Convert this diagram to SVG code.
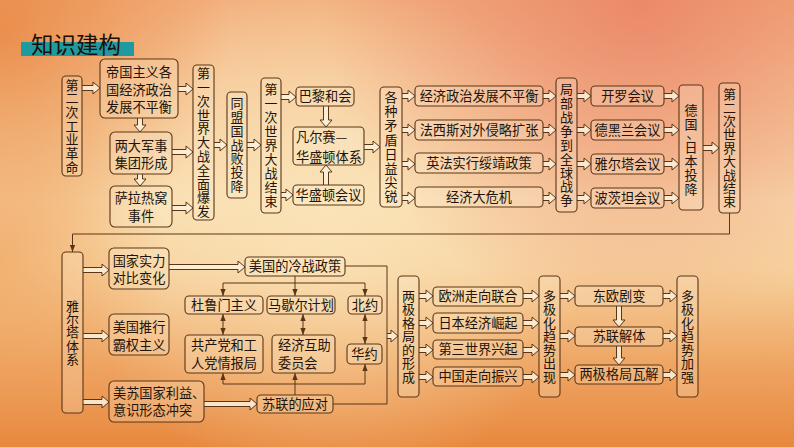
<svg xmlns="http://www.w3.org/2000/svg" width="794" height="447" viewBox="0 0 794 447">
<defs>
<linearGradient id="bg" x1="0" y1="0" x2="0" y2="1">
<stop offset="0" stop-color="#f2b07e"/>
<stop offset="0.18" stop-color="#f6c898"/>
<stop offset="0.45" stop-color="#f9deb0"/>
<stop offset="0.6" stop-color="#f7d29e"/>
<stop offset="0.82" stop-color="#eea462"/>
<stop offset="1" stop-color="#e8883e"/>
</linearGradient>
<radialGradient id="tr" cx="640" cy="0" r="320" gradientUnits="userSpaceOnUse">
<stop offset="0" stop-color="#ea8266" stop-opacity="0.85"/>
<stop offset="1" stop-color="#ea8266" stop-opacity="0"/>
</radialGradient>
<radialGradient id="tl" cx="0" cy="30" r="230" gradientUnits="userSpaceOnUse">
<stop offset="0" stop-color="#e8843e" stop-opacity="0.8"/>
<stop offset="1" stop-color="#e8843e" stop-opacity="0"/>
</radialGradient>
<radialGradient id="ml" cx="0" cy="260" r="170" gradientUnits="userSpaceOnUse">
<stop offset="0" stop-color="#ee9a52" stop-opacity="0.6"/>
<stop offset="1" stop-color="#ee9a52" stop-opacity="0"/>
</radialGradient>
<radialGradient id="cl" cx="330" cy="230" r="260" gradientUnits="userSpaceOnUse">
<stop offset="0" stop-color="#fbe6bc" stop-opacity="0.7"/>
<stop offset="1" stop-color="#fbe6bc" stop-opacity="0"/>
</radialGradient>
<marker id="ah" viewBox="0 0 8 6" refX="8" refY="3" markerWidth="7" markerHeight="5.5" markerUnits="userSpaceOnUse" orient="auto-start-reverse">
<path d="M0,0 L8,3 L0,6 z" fill="#5b3616"/>
</marker>
<style>
.box{fill:#fff4e0;fill-opacity:.22;stroke:#5b3616;stroke-width:1.1}
.t{font-family:"Noto Sans CJK SC","Noto Sans CJK TC",sans-serif;font-size:13.2px;fill:#22140a}
.v{font-size:13px}
.c{text-anchor:middle}
.ha{fill:#fdf1dc;fill-opacity:.85;stroke:#5b3616;stroke-width:1}
.ln{fill:none;stroke:#5b3616;stroke-width:1}
</style>
</defs>

<rect width="794" height="447" fill="url(#bg)"/>
<rect width="794" height="447" fill="url(#cl)"/>
<rect width="794" height="447" fill="url(#tr)"/>
<rect width="794" height="447" fill="url(#tl)"/>
<rect width="794" height="447" fill="url(#ml)"/>

<g id="title">
<rect x="21" y="42" width="113" height="14" fill="#1f9aa0"/>
<text x="31" y="53" style="font-family:'Noto Sans CJK SC',sans-serif;font-size:22.5px;fill:#1a1008">知识建构</text>
</g>

<g id="connectors">
<g class="ha">
<path d="M82 85.5 H93 V82 L100 88 L93 94 V90.5 H82"/>
<path d="M178 86.5 H186 V83 L193 89 L186 95 V91.5 H178"/>
<path d="M137.5 118 V125 H134 L140 132 L146 125 H142.5 V118"/>
<path d="M172 149.5 H186 V146 L193 152 L186 158 V154.5 H172"/>
<path d="M137.5 174 V179 H134 L140 186 L146 179 H142.5 V174"/>
<path d="M172 205.5 H186 V202 L193 208 L186 214 V210.5 H172"/>
<path d="M214 142.5 H220 V139 L227 145 L220 151 V147.5 H214"/>
<path d="M247 142.5 H254 V139 L261 145 L254 151 V147.5 H247"/>
<path d="M281 94.5 H289 V91 L296 97 L289 103 V99.5 H281"/>
<path d="M281 192.5 H286 V189 L293 195 L286 201 V197.5 H281"/>
<path d="M323.5 106 V120 H320 L326 127 L332 120 H328.5 V106"/>
<path d="M323.5 185 V172 H320 L326 165 L332 172 H328.5 V185"/>
<path d="M364 144.5 H373 V141 L380 147 L373 153 V149.5 H364"/>
<path d="M402 93.5 H408 V90 L415 96 L408 102 V98.5 H402"/>
<path d="M402 127.5 H408 V124 L415 130 L408 136 V132.5 H402"/>
<path d="M402 161.5 H408 V158 L415 164 L408 170 V166.5 H402"/>
<path d="M402 195.5 H408 V192 L415 198 L408 204 V200.5 H402"/>
<path d="M543 93.5 H549 V90 L556 96 L549 102 V98.5 H543"/>
<path d="M543 127.5 H549 V124 L556 130 L549 136 V132.5 H543"/>
<path d="M543 161.5 H549 V158 L556 164 L549 170 V166.5 H543"/>
<path d="M543 195.5 H549 V192 L556 198 L549 204 V200.5 H543"/>
<path d="M577 93.5 H584 V90 L591 96 L584 102 V98.5 H577"/>
<path d="M577 127.5 H584 V124 L591 130 L584 136 V132.5 H577"/>
<path d="M577 161.5 H584 V158 L591 164 L584 170 V166.5 H577"/>
<path d="M577 195.5 H584 V192 L591 198 L584 204 V200.5 H577"/>
<path d="M664 93.5 H672 V90 L679 96 L672 102 V98.5 H664"/>
<path d="M664 127.5 H672 V124 L679 130 L672 136 V132.5 H664"/>
<path d="M664 161.5 H672 V158 L679 164 L672 170 V166.5 H664"/>
<path d="M664 195.5 H672 V192 L679 198 L672 204 V200.5 H664"/>
<path d="M703 145.5 H712 V142 L719 148 L712 154 V150.5 H703"/>
<path d="M83 267.5 H102 V264 L109 270 L102 276 V272.5 H83"/>
<path d="M83 333.5 H102 V330 L109 336 L102 342 V338.5 H83"/>
<path d="M83 399.5 H102 V396 L109 402 L102 408 V404.5 H83"/>
<path d="M169 264.5 H238 V261 L245 267 L238 273 V269.5 H169"/>
<path d="M204 401.5 H250 V398 L257 404 L250 410 V406.5 H204"/>
<path d="M387 333.5 H391 V330 L398 336 L391 342 V338.5 H387"/>
<path d="M419 293.5 H426 V290 L433 296 L426 302 V298.5 H419"/>
<path d="M419 320.5 H426 V317 L433 323 L426 329 V325.5 H419"/>
<path d="M419 347.5 H426 V344 L433 350 L426 356 V352.5 H419"/>
<path d="M419 374.5 H426 V371 L433 377 L426 383 V379.5 H419"/>
<path d="M523 293.5 H532 V290 L539 296 L532 302 V298.5 H523"/>
<path d="M523 320.5 H532 V317 L539 323 L532 329 V325.5 H523"/>
<path d="M523 347.5 H532 V344 L539 350 L532 356 V352.5 H523"/>
<path d="M523 374.5 H532 V371 L539 377 L532 383 V379.5 H523"/>
<path d="M560 293.5 H568 V290 L575 296 L568 302 V298.5 H560"/>
<path d="M560 333.5 H568 V330 L575 336 L568 342 V338.5 H560"/>
<path d="M560 372.5 H568 V369 L575 375 L568 381 V377.5 H560"/>
<path d="M616.5 306 V320 H613 L619 327 L625 320 H621.5 V306"/>
<path d="M616.5 346 V358 H613 L619 365 L625 358 H621.5 V346"/>
<path d="M663 293.5 H670 V290 L677 296 L670 302 V298.5 H663"/>
<path d="M663 333.5 H670 V330 L677 336 L670 342 V338.5 H663"/>
<path d="M663 372.5 H670 V369 L677 375 L670 381 V377.5 H663"/>
</g>
<g class="ln">
<path d="M729.5 213 V234 H72.5 V252" marker-end="url(#ah)"/>
<path d="M345 266 H387 V404 H333"/>
<path d="M295 276 V296" marker-end="url(#ah)"/>
<path d="M223 283 H365"/>
<path d="M223 283 V296" marker-end="url(#ah)"/>
<path d="M365 283 V296" marker-end="url(#ah)"/>
<path d="M223 314 V335" marker-start="url(#ah)" marker-end="url(#ah)"/>
<path d="M303 314 V335" marker-start="url(#ah)" marker-end="url(#ah)"/>
<path d="M365 314 V344" marker-start="url(#ah)" marker-end="url(#ah)"/>
<path d="M295 395 V373" marker-end="url(#ah)"/>
<path d="M223 384 H365"/>
<path d="M223 384 V373" marker-end="url(#ah)"/>
<path d="M365 384 V364" marker-end="url(#ah)"/>
</g>
</g>

<g id="n1"><rect class="box" x="62" y="76" width="20" height="100" rx="4"/>
<text class="t v c" x="72 72 72 72 72 72 72" y="89.6 103.3 117 130.7 144.4 158.1 171.8">第二次工业革命</text></g>
<g id="n2"><rect class="box" x="100" y="59" width="78" height="59" rx="5"/>
<text class="t c" x="139" y="77.4">帝国主义各</text><text class="t c" x="139" y="94.6">国经济政治</text><text class="t c" x="139" y="112">发展不平衡</text></g>
<g id="n3"><rect class="box" x="110" y="132" width="62" height="42" rx="5"/>
<text class="t c" x="141" y="150.6">两大军事</text><text class="t c" x="141" y="168">集团形成</text></g>
<g id="n4"><rect class="box" x="110" y="186" width="62" height="41" rx="5"/>
<text class="t c" x="141" y="203.2">萨拉热窝</text><text class="t c" x="141" y="220.9">事件</text></g>
<g id="n5"><rect class="box" x="193" y="65" width="21" height="155" rx="4"/>
<text class="t v c" x="203.5 203.5 203.5 203.5 203.5 203.5 203.5 203.5 203.5 203.5 203.5" y="78.1 91.9 105.7 119.5 133.3 147.1 160.9 174.7 188.5 202.3 216.1">第一次世界大战全面爆发</text></g>
<g id="n6"><rect class="box" x="227" y="92" width="20" height="106" rx="4"/>
<text class="t v c" x="237 237 237 237 237 237 237" y="108.2 122 135.8 149.6 163.4 177.2 191">同盟国战败投降</text></g>
<g id="n7"><rect class="box" x="261" y="78" width="20" height="135" rx="4"/>
<text class="t v c" x="271 271 271 271 271 271 271 271 271" y="94.1 108.1 122.1 136.1 150.1 164.1 178.1 192.1 206.1">第一次世界大战结束</text></g>
<g id="n8"><rect class="box" x="296" y="87" width="58" height="19" rx="4"/>
<text class="t c" x="325" y="101.4">巴黎和会</text></g>
<g id="n9"><rect class="box" x="293" y="127" width="71" height="38" rx="4"/>
<text class="t" x="296" y="141.9">凡尔赛—</text><text class="t" x="296" y="161.9">华盛顿体系</text></g>
<g id="n10"><rect class="box" x="293" y="185" width="71" height="20" rx="4"/>
<text class="t c" x="328.5" y="199.9">华盛顿会议</text></g>
<g id="n11"><rect class="box" x="380" y="87" width="22" height="120" rx="4"/>
<text class="t v c" x="391 391 391 391 391 391 391 391" y="102 116.2 130.4 144.6 158.8 173 187.2 201.4">各种矛盾日益尖锐</text></g>
<g id="n12"><rect class="box" x="415" y="86" width="128" height="20" rx="4"/>
<text class="t c" x="479" y="100.9">经济政治发展不平衡</text></g>
<g id="n13"><rect class="box" x="415" y="120" width="128" height="20" rx="4"/>
<text class="t c" x="479" y="134.9">法西斯对外侵略扩张</text></g>
<g id="n14"><rect class="box" x="415" y="153" width="128" height="20" rx="4"/>
<text class="t c" x="479" y="167.9">英法实行绥靖政策</text></g>
<g id="n15"><rect class="box" x="415" y="187" width="128" height="20" rx="4"/>
<text class="t c" x="479" y="201.9">经济大危机</text></g>
<g id="n16"><rect class="box" x="556" y="78" width="21" height="134" rx="4"/>
<text class="t v c" x="566.5 566.5 566.5 566.5 566.5 566.5 566.5 566.5 566.5" y="94.1 108 121.9 135.8 149.7 163.6 177.5 191.4 205.3">局部战争到全球战争</text></g>
<g id="n17"><rect class="box" x="591" y="86" width="73" height="20" rx="4"/>
<text class="t c" x="627.5" y="100.9">开罗会议</text></g>
<g id="n18"><rect class="box" x="591" y="120" width="73" height="20" rx="4"/>
<text class="t c" x="627.5" y="134.9">德黑兰会议</text></g>
<g id="n19"><rect class="box" x="591" y="154" width="73" height="20" rx="4"/>
<text class="t c" x="627.5" y="168.9">雅尔塔会议</text></g>
<g id="n20"><rect class="box" x="591" y="188" width="73" height="20" rx="4"/>
<text class="t c" x="627.5" y="202.9">波茨坦会议</text></g>
<g id="n21"><rect class="box" x="679" y="85" width="24" height="125" rx="4"/>
<text class="t v c" x="691 691 693 691 691 691 691" y="114.7 128.7 138 151.7 165.7 179.7 193.7">德国、日本投降</text></g>
<g id="n22"><rect class="box" x="719" y="83" width="21" height="130" rx="4"/>
<text class="t v c" x="729.5 729.5 729.5 729.5 729.5 729.5 729.5 729.5 729.5" y="99.1 112.5 125.9 139.3 152.7 166.1 179.5 192.9 206.3">第二次世界大战结束</text></g>

<g id="n23"><rect class="box" x="62" y="252" width="21" height="161" rx="4"/>
<text class="t v c" x="72.5 72.5 72.5 72.5 72.5" y="310.6 323.9 337.2 350.5 363.8">雅尔塔体系</text></g>
<g id="n24"><rect class="box" x="109" y="248" width="60" height="41" rx="5"/>
<text class="t c" x="139" y="265.6">国家实力</text><text class="t c" x="139" y="283">对比变化</text></g>
<g id="n25"><rect class="box" x="109" y="314" width="60" height="41" rx="5"/>
<text class="t c" x="139" y="331.6">美国推行</text><text class="t c" x="139" y="350">霸权主义</text></g>
<g id="n26"><rect class="box" x="109" y="381" width="95" height="41" rx="5"/>
<text class="t" x="113" y="397.6">美苏国家利益、</text><text class="t" x="113" y="415">意识形态冲突</text></g>
<g id="n27"><rect class="box" x="245" y="257" width="100" height="19" rx="4"/>
<text class="t c" x="295" y="271.4">美国的冷战政策</text></g>
<g id="n28"><rect class="box" x="185" y="296" width="78" height="18" rx="4"/>
<text class="t c" x="224" y="309.9">杜鲁门主义</text></g>
<g id="n29"><rect class="box" x="267" y="296" width="68" height="18" rx="4"/>
<text class="t c" x="301" y="309.9">马歇尔计划</text></g>
<g id="n30"><rect class="box" x="348" y="296" width="34" height="18" rx="4"/>
<text class="t c" x="365" y="309.9">北约</text></g>
<g id="n31"><rect class="box" x="185" y="335" width="78" height="38" rx="4"/>
<text class="t c" x="224" y="349.6">共产党和工</text><text class="t c" x="224" y="368">人党情报局</text></g>
<g id="n32"><rect class="box" x="272" y="335" width="63" height="38" rx="4"/>
<text class="t" x="278" y="349.6">经济互助</text><text class="t" x="278" y="368">委员会</text></g>
<g id="n33"><rect class="box" x="347" y="344" width="35" height="20" rx="4"/>
<text class="t c" x="364.5" y="358.9">华约</text></g>
<g id="n34"><rect class="box" x="257" y="395" width="76" height="18" rx="4"/>
<text class="t c" x="295" y="408.9">苏联的应对</text></g>
<g id="n35"><rect class="box" x="398" y="276" width="21" height="121" rx="4"/>
<text class="t v c" x="408.5 408.5 408.5 408.5 408.5 408.5 408.5" y="300.7 314.2 327.7 341.2 354.7 368.2 381.7">两极格局的形成</text></g>
<g id="n36"><rect class="box" x="433" y="287" width="90" height="19" rx="4"/>
<text class="t c" x="478" y="301.4">欧洲走向联合</text></g>
<g id="n37"><rect class="box" x="433" y="313" width="90" height="20" rx="4"/>
<text class="t c" x="478" y="327.9">日本经济崛起</text></g>
<g id="n38"><rect class="box" x="433" y="340" width="90" height="19" rx="4"/>
<text class="t c" x="478" y="354.4">第三世界兴起</text></g>
<g id="n39"><rect class="box" x="433" y="367" width="90" height="19" rx="4"/>
<text class="t c" x="478" y="381.4">中国走向振兴</text></g>
<g id="n40"><rect class="box" x="539" y="276" width="21" height="121" rx="4"/>
<text class="t v c" x="549.5 549.5 549.5 549.5 549.5 549.5 549.5" y="300.7 314.2 327.7 341.2 354.7 368.2 381.7">多极化趋势出现</text></g>
<g id="n41"><rect class="box" x="575" y="286" width="88" height="20" rx="4"/>
<text class="t c" x="619" y="300.9">东欧剧变</text></g>
<g id="n42"><rect class="box" x="575" y="327" width="88" height="19" rx="4"/>
<text class="t c" x="619" y="341.4">苏联解体</text></g>
<g id="n43"><rect class="box" x="575" y="365" width="88" height="19" rx="4"/>
<text class="t c" x="619" y="379.4">两极格局瓦解</text></g>
<g id="n44"><rect class="box" x="677" y="276" width="21" height="121" rx="4"/>
<text class="t v c" x="687.5 687.5 687.5 687.5 687.5 687.5 687.5" y="300.7 314.2 327.7 341.2 354.7 368.2 381.7">多极化趋势加强</text></g>
</svg>
